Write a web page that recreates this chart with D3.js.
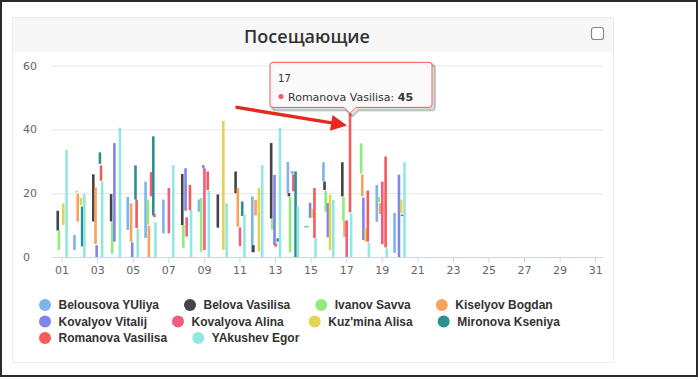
<!DOCTYPE html>
<html><head><meta charset="utf-8">
<script src="https://cdn.jsdelivr.net/npm/d3@7"></script>
<style>html,body{margin:0;padding:0;background:#fff;}svg{display:block;}</style>
</head><body><svg id="c" width="700" height="380"></svg>
<script>
const chartTitle = "Посещающие";
const seriesNames = ["Belousova YUliya","Belova Vasilisa","Ivanov Savva","Kiselyov Bogdan","Kovalyov Vitalij","Kovalyova Alina","Kuz'mina Alisa","Mironova Kseniya","Romanova Vasilisa","YAkushev Egor"];
const seriesColors = ["#7cb5ec","#434348","#90ed7d","#f7a35c","#8085e9","#f15c80","#e4d354","#2b908f","#f45b5b","#91e8e1"];
// [day, low, high]
const belousova = [[2,2.2,6.9],[5,8.5,18.8],[6,6,23.6],[7,7.4,18],[9,14.2,18],[12,1.5,19],[14,20,29.8],[15,9.2,9.8],[16,23.6,29.7],[19,11,22.6],[20,1.3,13.8]];
const belova = [[1,8.3,14.5],[3,11.1,25.9],[4,11.1,19.7],[8,10,26],[10,9.2,19.6],[11,20,26.8],[12,1.5,3.7],[13,12,35.7],[14,19,20],[16,21,23.6],[17,19,29.7]];
const ivanov = [[1,2.2,8.3],[2,20.2,20.8],[4,1,11.1],[6,10.1,18],[8,2.9,10],[9,1.7,18.5],[13,8.5,12],[14,1.4,18.8],[15,9.2,9.8],[16,14.2,20.8],[17,11.2,18.8],[18,26.2,35.6],[19,17.2,18.8]];
const kiselyov = [[2,11.1,19.8],[3,4.1,21.8],[5,4.8,16.8],[6,0,9.8],[11,9.5,21.7],[12,13,17.9],[17,6.3,11.2],[18,19,25.8],[19,13.5,16.8]];
const kovalyov = [[3,0,3.7],[4,4.8,35.7],[5,0,4.6],[8,14.5,27.8],[9,27.8,28.8],[13,3.8,25.7],[14,26.2,26.8],[15,12.3,17],[16,6.2,16.9],[18,5.3,18.6],[20,0,25.8]];
const kovalyova = [[6,19,26.6],[7,7.4,21.6],[8,6.4,12.4],[9,2.2,27.8],[11,3.4,9.3],[13,3.2,4.3],[14,20.6,25.9],[17,0,11.5],[19,4,23.6]];
const kuzmina = [[1,10,16.8],[2,16.2,18.6],[10,2.2,42.6],[12,1.7,21.6],[15,12.2,15],[16,2.1,19.5],[18,4.8,9],[20,13.8,18]];
const mironova = [[2,3.3,15.8],[3,29.2,32.8],[5,18,28.7],[6,13,37.8],[11,12.8,17.4],[13,4.8,5.9],[14,0,26.8],[20,12.8,13.3]];
const romanova = [[3,23.9,28.7],[5,9.1,18],[6,12.5,13.5],[8,14.7,22.6],[9,21,26.8],[15,6,21.6],[17,14,45],[18,4.8,20.8],[19,3,31.5]];
const yakushev = [[1,0,33.6],[2,0,19.7],[3,0,23.7],[4,0,40.5],[5,0,8.9],[6,0,10.9],[7,0,28.8],[8,0,14.7],[9,0,20.8],[10,0,16.8],[11,0,13.3],[12,0,28.8],[13,0,40.5],[14,0,15.8],[15,0,5.9],[16,0,17.9],[17,0,13.7],[18,0,4.5],[19,0,2.7],[20,0,29.7]];
const seriesData = [belousova,belova,ivanov,kiselyov,kovalyov,kovalyova,kuzmina,mironova,romanova,yakushev];
const yTicks = [0,20,40,60];
const xTickDays = [1,3,5,7,9,11,13,15,17,19,21,23,25,27,29,31];
const tooltipDay = 17, tooltipSeries = 8, tooltipValue = 45;

const svg = d3.select("#c");
const font = "'DejaVu Sans', Verdana, sans-serif";
const legendFont = "'Liberation Sans', Arial, sans-serif";

// outer frame
svg.append("rect").attr("x",1).attr("y",1).attr("width",696).attr("height",375)
  .attr("fill","#fff").attr("stroke","#2b2b2b").attr("stroke-width",2);
// panel
svg.append("rect").attr("x",12.5).attr("y",17.5).attr("width",601).attr("height",345)
  .attr("fill","#fff").attr("stroke","#ebebeb");
svg.append("rect").attr("x",13).attr("y",18).attr("width",600).attr("height",34).attr("fill","#f7f7f7");
svg.append("text").attr("x",307).attr("y",42.5).attr("text-anchor","middle")
  .attr("font-family","'Open Sans', sans-serif").attr("font-size",18).attr("font-weight",600)
  .attr("fill","#333").text(chartTitle);
svg.append("rect").attr("x",591.5).attr("y",27.5).attr("width",12).attr("height",12).attr("rx",2.5)
  .attr("fill","#fff").attr("stroke","#8a8a8a").attr("stroke-width",1.2);

const x = d3.scaleLinear().domain([0.46,31.44]).range([52,603]);
const y = d3.scaleLinear().domain([0,60]).range([257,65.5]);

// grid
const grid = svg.append("g").attr("transform","translate(52,0)")
  .call(d3.axisLeft(y).tickValues(yTicks.filter(v=>v>0)).tickSize(-551).tickFormat(""));
grid.select(".domain").remove();
grid.selectAll("line").attr("stroke","#e6e6e6");

// y labels
const ya = svg.append("g").attr("transform","translate(52,0)")
  .call(d3.axisLeft(y).tickValues(yTicks).tickSize(0));
ya.select(".domain").remove();
ya.selectAll("text").attr("x",-29).attr("text-anchor","start").attr("dy","0.32em")
  .attr("font-family",font).attr("font-size",11).attr("fill","#666");

// x axis
const xa = svg.append("g").attr("transform","translate(0,257)")
  .call(d3.axisBottom(x).tickValues(xTickDays).tickSize(6).tickPadding(3).tickFormat(d3.format("02d")));
xa.select(".domain").attr("stroke","#ccd6eb").attr("d","M52,0.5H603");
xa.selectAll("line").attr("stroke","#ccd6eb");
xa.selectAll("text").attr("font-family",font).attr("font-size",11).attr("fill","#666");

// bars
const slot = 1.1, barW = 2.6;
seriesData.forEach((data,i)=>{
  svg.append("g").selectAll("rect").data(data).join("rect")
    .attr("x",d=>x(d[0])+(i-4.5)*slot-barW/2)
    .attr("y",d=>y(d[2]))
    .attr("width",barW)
    .attr("height",d=>Math.max(1.2,y(d[1])-y(d[2])))
    .attr("fill",seriesColors[i]);
});

// legend
const lg = svg.append("g");
let lx = 39, ly = 305; const maxRight = 605;
seriesNames.forEach((n,i)=>{
  const t = lg.append("text").attr("font-family",legendFont).attr("font-size",12).attr("font-weight","bold")
    .attr("fill","#333").text(n);
  const w = t.node().getComputedTextLength();
  if (lx + 19.5 + w > maxRight) { lx = 39; ly += 16.5; }
  t.attr("x",lx+19.5).attr("y",ly+4);
  lg.append("circle").attr("cx",lx+6).attr("cy",ly).attr("r",6).attr("fill",seriesColors[i]);
  lx += 19.5 + w + 25;
});

// annotation arrow
const px = x(tooltipDay)+(tooltipSeries-4.5)*slot, py = y(tooltipValue);
const tip = [px-3, py+12], tail = [px-113, py-6];
const dx = tip[0]-tail[0], dy = tip[1]-tail[1], L = Math.hypot(dx,dy);
const ux = dx/L, uy = dy/L, hl = 16, hw = 8;
const bx = tip[0]-ux*hl, by = tip[1]-uy*hl;
svg.append("line").attr("x1",tail[0]).attr("y1",tail[1]).attr("x2",bx+ux*2).attr("y2",by+uy*2)
  .attr("stroke","#e5291f").attr("stroke-width",3.5).attr("stroke-linecap","round");
svg.append("path").attr("d",`M${tip[0]},${tip[1]}L${bx-uy*hw},${by+ux*hw}L${bx+uy*hw},${by-ux*hw}Z`)
  .attr("fill","#e5291f");

// tooltip
const tb = py-6, tt = tb-45, tl = px-80, tr = px+82;
const tipPath = `M${tl+3},${tt}H${tr-3}Q${tr},${tt} ${tr},${tt+3}V${tb-3}Q${tr},${tb} ${tr-3},${tb}H${px+6}L${px},${py}L${px-6},${tb}H${tl+3}Q${tl},${tb} ${tl},${tb-3}V${tt+3}Q${tl},${tt} ${tl+3},${tt}Z`;
[3,2,1].forEach(k=>svg.append("path").attr("d",tipPath).attr("transform",`translate(${k},${k})`)
  .attr("fill","none").attr("stroke","#000").attr("stroke-opacity",0.05*k).attr("stroke-width",5-k));
svg.append("path").attr("d",tipPath).attr("fill","rgba(250,250,250,0.96)").attr("stroke",seriesColors[tooltipSeries]).attr("stroke-width",1);
svg.append("text").attr("x",tl+8).attr("y",tt+20).attr("font-family",font).attr("font-size",10).attr("fill","#333").text(String(tooltipDay));
svg.append("circle").attr("cx",tl+11).attr("cy",tt+34).attr("r",2.5).attr("fill",seriesColors[tooltipSeries]);
const tx = svg.append("text").attr("x",tl+18).attr("y",tt+38.5).attr("font-family",font).attr("font-size",11).attr("fill","#333");
tx.append("tspan").text(seriesNames[tooltipSeries]+": ");
tx.append("tspan").attr("font-weight","bold").text(String(tooltipValue));
</script></body></html>
